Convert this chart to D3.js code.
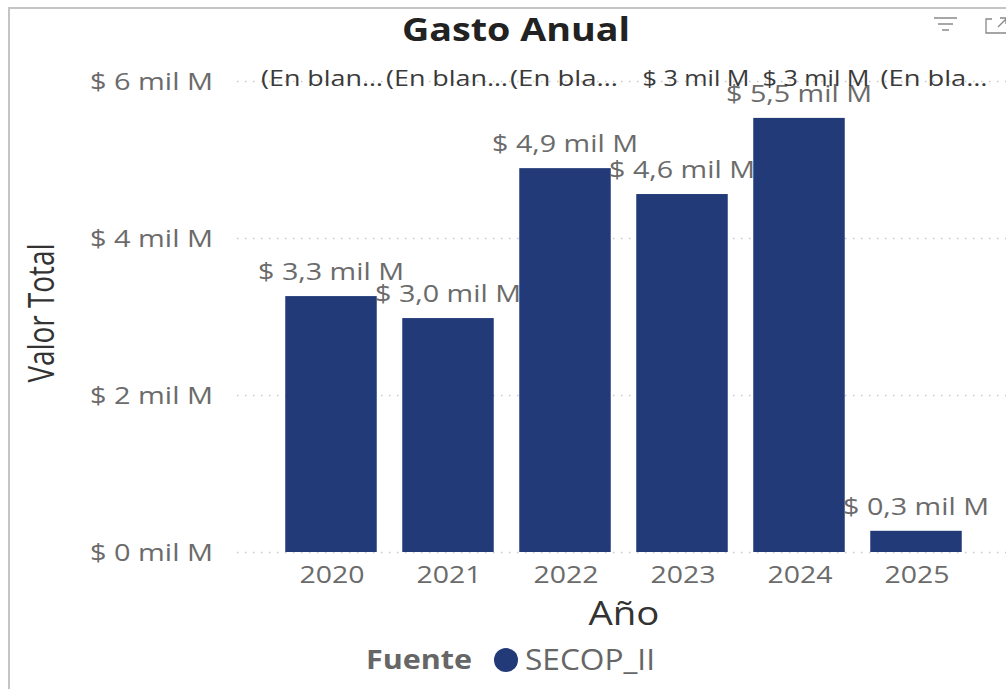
<!DOCTYPE html>
<html>
<head>
<meta charset="utf-8">
<script src="https://cdn.jsdelivr.net/npm/d3@7"></script>
<style>
  html, body { margin: 0; padding: 0; background: #fff; overflow: hidden; }
  text { font-family: "Open Sans", sans-serif; }
</style>
</head>
<body>
<div id="chart"></div>
<script>
// Datos del gráfico
const years = ["2020", "2021", "2022", "2023", "2024", "2025"];
const totals = [3.26, 2.98, 4.89, 4.56, 5.53, 0.27];
const valueLabels = ["$ 3,3 mil M", "$ 3,0 mil M", "$ 4,9 mil M", "$ 4,6 mil M", "$ 5,5 mil M", "$ 0,3 mil M"];
const topLabels = ["(En blan…", "(En blan…", "(En bla…", "$ 3 mil M", "$ 3 mil M", "(En bla…"];
const yTicks = [0, 2, 4, 6];

const svg = d3.select("#chart").append("svg")
    .attr("width", 1006)
    .attr("height", 689);

// Marco del visual
svg.append("path")
    .attr("d", "M9,689V8H1006")
    .attr("fill", "none")
    .attr("stroke", "#c4c4c4")
    .attr("stroke-width", 2);

const x = d3.scaleBand()
    .domain(years)
    .range([272.5, 974.5])
    .paddingInner(0.218)
    .paddingOuter(0.109);

const y = d3.scaleLinear()
    .domain([0, 6])
    .range([552, 81]);

// Líneas de cuadrícula
svg.append("g").selectAll("line")
    .data(yTicks)
    .join("line")
    .attr("x1", 237)
    .attr("x2", 1006)
    .attr("y1", d => y(d) + 0.5)
    .attr("y2", d => y(d) + 0.5)
    .attr("stroke", "#c8c8c8")
    .attr("stroke-width", 1.5)
    .attr("stroke-dasharray", "1.5 6.5");

// Eje Y
svg.append("g").selectAll("text")
    .data(yTicks)
    .join("text")
    .attr("x", 213)
    .attr("y", d => y(d) + 9)
    .attr("text-anchor", "end")
    .attr("font-size", 24)
    .attr("textLength", 123)
    .attr("lengthAdjust", "spacingAndGlyphs")
    .attr("fill", "#6b6b6b")
    .text(d => `$ ${d} mil M`);

// Barras
svg.append("g").selectAll("rect")
    .data(years)
    .join("rect")
    .attr("x", d => x(d))
    .attr("y", (d, i) => y(totals[i]))
    .attr("width", x.bandwidth())
    .attr("height", (d, i) => y(0) - y(totals[i]))
    .attr("fill", "#223a78");

// Etiquetas de valor
svg.append("g").selectAll("text")
    .data(years)
    .join("text")
    .attr("x", d => x(d) + x.bandwidth() / 2)
    .attr("y", (d, i) => y(totals[i]) - 16)
    .attr("text-anchor", "middle")
    .attr("font-size", 24)
    .attr("textLength", 146)
    .attr("lengthAdjust", "spacingAndGlyphs")
    .attr("fill", "#6b6b6b")
    .text((d, i) => valueLabels[i]);

// Etiquetas superiores: desplazadas respecto a la barra, como en el visual original
const topShift = [-9, -1, -1, 14, 17, 18];
const topWidth = [122, 122, 108, 107, 107, 107];
svg.append("g").selectAll("text")
    .data(years)
    .join("text")
    .attr("x", (d, i) => x(d) + x.bandwidth() / 2 + topShift[i])
    .attr("y", 86)
    .attr("text-anchor", "middle")
    .attr("font-size", 22)
    .attr("textLength", (d, i) => topWidth[i])
    .attr("lengthAdjust", "spacingAndGlyphs")
    .attr("fill", "#3a3a3a")
    .text((d, i) => topLabels[i]);

// Eje X
svg.append("g").selectAll("text")
    .data(years)
    .join("text")
    .attr("x", d => x(d) + x.bandwidth() / 2 + 1)
    .attr("y", 583)
    .attr("text-anchor", "middle")
    .attr("font-size", 24)
    .attr("textLength", 65)
    .attr("lengthAdjust", "spacingAndGlyphs")
    .attr("fill", "#6b6b6b")
    .text(d => d);

// Títulos
svg.append("text")
    .attr("x", 516)
    .attr("y", 41)
    .attr("text-anchor", "middle")
    .attr("font-size", 32)
    .attr("font-weight", 700)
    .attr("textLength", 228)
    .attr("lengthAdjust", "spacingAndGlyphs")
    .attr("fill", "#222")
    .text("Gasto Anual");

svg.append("text")
    .attr("x", 624)
    .attr("y", 625)
    .attr("text-anchor", "middle")
    .attr("font-size", 33)
    .attr("textLength", 71)
    .attr("lengthAdjust", "spacingAndGlyphs")
    .attr("fill", "#333")
    .text("Año");

svg.append("text")
    .attr("transform", "translate(54,313) rotate(-90) scale(0.93,1.22)")
    .attr("text-anchor", "middle")
    .attr("font-size", 30)
    .attr("fill", "#333")
    .text("Valor Total");

// Leyenda
svg.append("text")
    .attr("x", 366)
    .attr("y", 669)
    .attr("font-size", 26)
    .attr("font-weight", 700)
    .attr("textLength", 106)
    .attr("lengthAdjust", "spacingAndGlyphs")
    .attr("fill", "#666")
    .text("Fuente");

svg.append("circle")
    .attr("cx", 506)
    .attr("cy", 660)
    .attr("r", 12)
    .attr("fill", "#223a78");

svg.append("text")
    .attr("x", 525)
    .attr("y", 670)
    .attr("font-size", 29)
    .attr("fill", "#666")
    .attr("textLength", 130)
    .attr("lengthAdjust", "spacingAndGlyphs")
    .text("SECOP_II");

// Iconos de la cabecera
const filterIcon = [[934, 957, 18], [938, 953, 24], [942, 949, 30]];
svg.append("g").selectAll("line")
    .data(filterIcon)
    .join("line")
    .attr("x1", d => d[0])
    .attr("x2", d => d[1])
    .attr("y1", d => d[2])
    .attr("y2", d => d[2])
    .attr("stroke", "#777")
    .attr("stroke-width", 1.3);

svg.append("path")
    .attr("d", "M992,19H986V33H1006M998,27L1006,19M1000,18H1006V24")
    .attr("fill", "none")
    .attr("stroke", "#888")
    .attr("stroke-width", 1.3);
</script>
</body>
</html>
